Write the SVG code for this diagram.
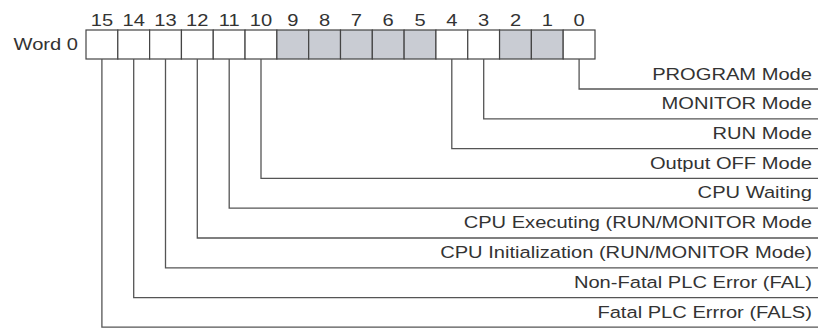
<svg xmlns="http://www.w3.org/2000/svg" width="832" height="328" viewBox="0 0 832 328">
<style>
.t{font-family:"Liberation Sans",Arial,sans-serif;font-size:16.5px;fill:#333}
.e{text-anchor:end}
.m{text-anchor:middle}
.c{fill:#fff;stroke:#444;stroke-width:1.2}
.g{fill:#c9ccd3;stroke:#444;stroke-width:1.2}
.w{fill:none;stroke:#555;stroke-width:1.3}
</style>
<rect width="832" height="328" fill="#fff"/>
<g id="word0">
<g transform="translate(78,50) scale(1.22,1)"><text class="t e" x="0" y="0">Word 0</text></g>
<rect class="c" x="86" y="30" width="31.81" height="29"/>
<rect class="c" x="117.81" y="30" width="31.81" height="29"/>
<rect class="c" x="149.63" y="30" width="31.81" height="29"/>
<rect class="c" x="181.44" y="30" width="31.81" height="29"/>
<rect class="c" x="213.25" y="30" width="31.81" height="29"/>
<rect class="c" x="245.06" y="30" width="31.81" height="29"/>
<rect class="g" x="276.88" y="30" width="31.81" height="29"/>
<rect class="g" x="308.69" y="30" width="31.81" height="29"/>
<rect class="g" x="340.5" y="30" width="31.81" height="29"/>
<rect class="g" x="372.31" y="30" width="31.81" height="29"/>
<rect class="g" x="404.13" y="30" width="31.81" height="29"/>
<rect class="c" x="435.94" y="30" width="31.81" height="29"/>
<rect class="c" x="467.75" y="30" width="31.81" height="29"/>
<rect class="g" x="499.56" y="30" width="31.81" height="29"/>
<rect class="g" x="531.38" y="30" width="31.81" height="29"/>
<rect class="c" x="563.19" y="30" width="31.81" height="29"/>
</g>
<g id="bitnumbers">
<g transform="translate(101.9,25.7) scale(1.22,1)"><text class="t m" x="0" y="0">15</text></g>
<g transform="translate(133.7,25.7) scale(1.22,1)"><text class="t m" x="0" y="0">14</text></g>
<g transform="translate(165.5,25.7) scale(1.22,1)"><text class="t m" x="0" y="0">13</text></g>
<g transform="translate(197.3,25.7) scale(1.22,1)"><text class="t m" x="0" y="0">12</text></g>
<g transform="translate(229.2,25.7) scale(1.22,1)"><text class="t m" x="0" y="0">11</text></g>
<g transform="translate(261,25.7) scale(1.22,1)"><text class="t m" x="0" y="0">10</text></g>
<g transform="translate(292.8,25.7) scale(1.22,1)"><text class="t m" x="0" y="0">9</text></g>
<g transform="translate(324.6,25.7) scale(1.22,1)"><text class="t m" x="0" y="0">8</text></g>
<g transform="translate(356.4,25.7) scale(1.22,1)"><text class="t m" x="0" y="0">7</text></g>
<g transform="translate(388.2,25.7) scale(1.22,1)"><text class="t m" x="0" y="0">6</text></g>
<g transform="translate(420,25.7) scale(1.22,1)"><text class="t m" x="0" y="0">5</text></g>
<g transform="translate(451.8,25.7) scale(1.22,1)"><text class="t m" x="0" y="0">4</text></g>
<g transform="translate(483.7,25.7) scale(1.22,1)"><text class="t m" x="0" y="0">3</text></g>
<g transform="translate(515.5,25.7) scale(1.22,1)"><text class="t m" x="0" y="0">2</text></g>
<g transform="translate(547.3,25.7) scale(1.22,1)"><text class="t m" x="0" y="0">1</text></g>
<g transform="translate(579.1,25.7) scale(1.22,1)"><text class="t m" x="0" y="0">0</text></g>
</g>
<g id="connectors">
<polyline class="w" points="579.1,59 579.1,89 818,89"/>
<polyline class="w" points="483.7,59 483.7,118.8 818,118.8"/>
<polyline class="w" points="451.8,59 451.8,148.6 818,148.6"/>
<polyline class="w" points="261,59 261,178.4 818,178.4"/>
<polyline class="w" points="229.2,59 229.2,208.2 818,208.2"/>
<polyline class="w" points="197.3,59 197.3,238 818,238"/>
<polyline class="w" points="165.5,59 165.5,267.8 818,267.8"/>
<polyline class="w" points="133.7,59 133.7,297.6 818,297.6"/>
<polyline class="w" points="101.9,59 101.9,327.2 818,327.2"/>
</g>
<g id="labels">
<g id="l0" transform="translate(812,79.5) scale(1.22,1)"><text class="t e" x="0" y="0">PROGRAM Mode</text></g>
<g id="l3" transform="translate(812,109) scale(1.22,1)"><text class="t e" x="0" y="0">MONITOR Mode</text></g>
<g id="l4" transform="translate(812,138.8) scale(1.22,1)"><text class="t e" x="0" y="0">RUN Mode</text></g>
<g id="l10" transform="translate(812,168.6) scale(1.22,1)"><text class="t e" x="0" y="0">Output OFF Mode</text></g>
<g id="l11" transform="translate(812,198.4) scale(1.22,1)"><text class="t e" x="0" y="0">CPU Waiting</text></g>
<g id="l12" transform="translate(812,228.2) scale(1.22,1)"><text class="t e" x="0" y="0">CPU Executing (RUN/MONITOR Mode</text></g>
<g id="l13" transform="translate(812,258) scale(1.22,1)"><text class="t e" x="0" y="0">CPU Initialization (RUN/MONITOR Mode)</text></g>
<g id="l14" transform="translate(812,287.8) scale(1.22,1)"><text class="t e" x="0" y="0">Non-Fatal PLC Error (FAL)</text></g>
<g id="l15" transform="translate(812,317.6) scale(1.22,1)"><text class="t e" x="0" y="0">Fatal PLC Errror (FALS)</text></g>
</g>
</svg>
